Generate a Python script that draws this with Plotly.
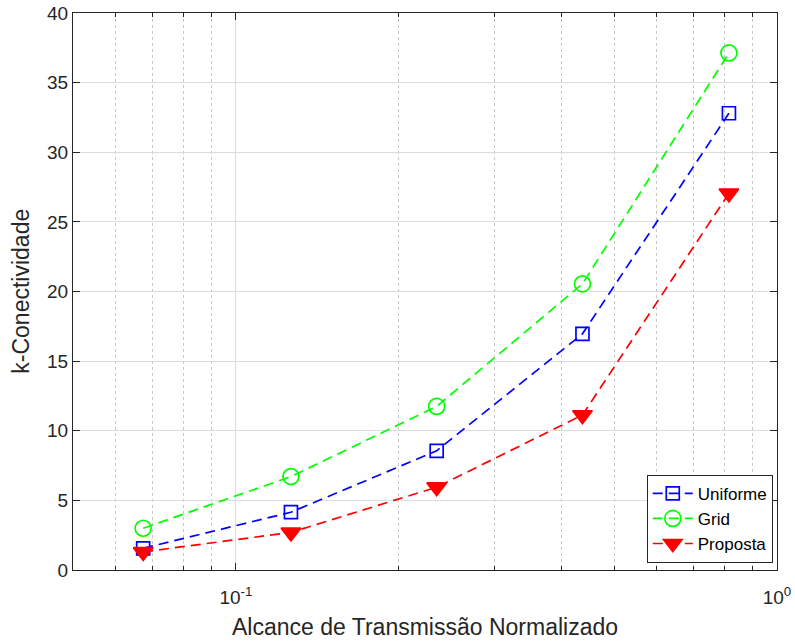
import plotly.graph_objects as go

# Normalized transmission range (log scale) and k-connectivity per strategy
alcance = [0.0674, 0.1264, 0.235, 0.437, 0.815]
uniforme = [1.56, 4.15, 8.56, 16.96, 32.8]
grid = [3.0, 6.71, 11.75, 20.55, 37.13]
proposta = [1.3, 2.7, 5.95, 11.13, 27.05]

x_major = [0.1, 1]
x_major_text = ["10<sup>-1</sup>", "10<sup>0</sup>"]
x_minor = [0.06, 0.07, 0.08, 0.09, 0.2, 0.3, 0.4, 0.5, 0.6, 0.7, 0.8, 0.9]
y_ticks = [0, 5, 10, 15, 20, 25, 30, 35, 40]

series = [
    ("Uniforme", uniforme, "#0000ff", "square-open", 13),
    ("Grid", grid, "#00ff00", "circle-open", 16),
    ("Proposta", proposta, "#ff0000", "triangle-down", 17),
]

fig = go.Figure()
for name, vals, color, symbol, size in series:
    fig.add_trace(go.Scatter(
        x=alcance, y=vals, name=name, mode="lines+markers",
        line=dict(color=color, width=1.7, dash="10px,6px"),
        marker=dict(symbol=symbol, size=size, color=color,
                    line=dict(color=color, width=1.7)),
    ))

font_family = "Liberation Sans, Arial, sans-serif"
axis_font = dict(family=font_family, size=19, color="#262626")
title_font = dict(family=font_family, size=23, color="#262626")

fig.update_layout(
    width=795, height=642,
    margin=dict(l=73, r=18, t=13, b=72),
    paper_bgcolor="white", plot_bgcolor="white",
    font=dict(family=font_family, size=18, color="#262626"),
    showlegend=True,
    legend=dict(
        x=0.994, y=0.013, xanchor="right", yanchor="bottom",
        bgcolor="white", bordercolor="#262626", borderwidth=1,
        font=dict(size=17, color="#000000"),
        tracegroupgap=0, itemwidth=40,
    ),
    xaxis=dict(
        type="log", range=[-1.30103, 0], automargin=False,
        tickvals=x_major, ticktext=x_major_text,
        ticks="inside", ticklen=7, tickcolor="#262626",
        ticklabelstandoff=10,
        showline=True, linecolor="#262626", linewidth=1, mirror="allticks",
        showgrid=True, gridcolor="#dcdcdc", gridwidth=1,
        zeroline=False, tickfont=axis_font,
        minor=dict(tickvals=x_minor, ticks="inside", ticklen=4,
                   tickcolor="#262626", showgrid=True,
                   gridcolor="#c8c8c8", griddash="dot", gridwidth=1),
        title=dict(text="Alcance de Transmissão Normalizado",
                   font=title_font, standoff=12),
    ),
    yaxis=dict(
        range=[0, 40], tickvals=y_ticks, automargin=False,
        ticks="inside", ticklen=7, tickcolor="#262626",
        showline=True, linecolor="#262626", linewidth=1, mirror="allticks",
        showgrid=True, gridcolor="#dcdcdc", gridwidth=1,
        zeroline=False, tickfont=axis_font,
    ),
    annotations=[dict(
        text="k-Conectividade", textangle=-90, showarrow=False,
        xref="paper", yref="paper", x=-0.075, y=0.5,
        xanchor="center", yanchor="middle", font=title_font,
    )],
)

fig.write_html("out.html")
